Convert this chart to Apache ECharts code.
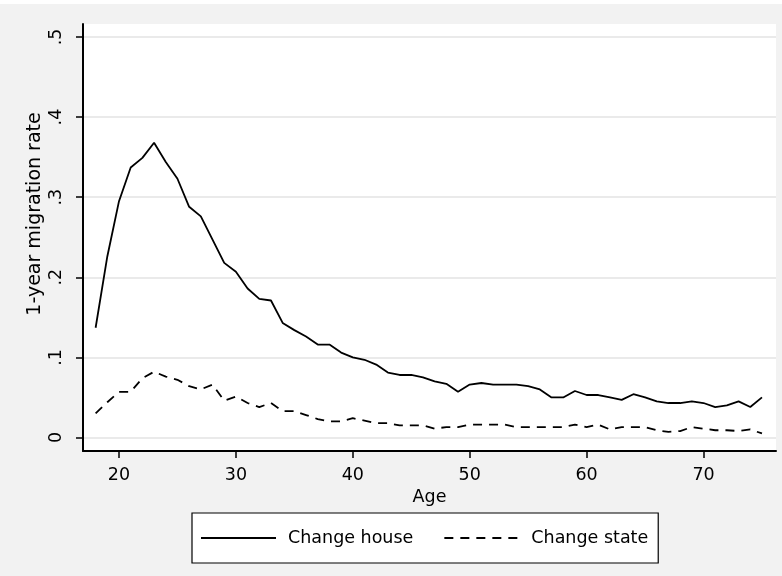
<!DOCTYPE html>
<html>
<head>
<meta charset="utf-8">
<script src="https://cdn.jsdelivr.net/npm/echarts@6/dist/echarts.min.js"></script>
<style>
html,body{margin:0;padding:0;background:#f2f2f2;}
#chart{width:782px;height:576px;}
</style>
</head>
<body>
<div id="chart"></div>
<script>
var ages = [18,19,20,21,22,23,24,25,26,27,28,29,30,31,32,33,34,35,36,37,38,39,40,41,42,43,44,45,46,47,48,49,50,51,52,53,54,55,56,57,58,59,60,61,62,63,64,65,66,67,68,69,70,71,72,73,74,75];
var changeHouse = [0.137,0.226,0.295,0.337,0.349,0.368,0.344,0.323,0.288,0.276,0.247,0.218,0.207,0.186,0.173,0.171,0.143,0.134,0.126,0.116,0.116,0.106,0.100,0.097,0.091,0.081,0.078,0.078,0.075,0.070,0.067,0.057,0.066,0.068,0.066,0.066,0.066,0.064,0.060,0.050,0.050,0.058,0.053,0.053,0.050,0.047,0.054,0.050,0.045,0.043,0.043,0.045,0.043,0.038,0.040,0.045,0.038,0.050];
var changeState = [0.030,0.044,0.057,0.057,0.074,0.082,0.076,0.072,0.064,0.060,0.066,0.046,0.051,0.043,0.038,0.043,0.033,0.033,0.028,0.023,0.020,0.020,0.024,0.021,0.018,0.018,0.015,0.015,0.015,0.011,0.013,0.013,0.016,0.016,0.016,0.016,0.013,0.013,0.013,0.013,0.013,0.016,0.013,0.016,0.010,0.013,0.013,0.013,0.009,0.007,0.008,0.013,0.011,0.009,0.009,0.008,0.010,0.005];
var xTicks = [20,30,40,50,60,70];
var yTicks = [0,0.1,0.2,0.3,0.4,0.5];
var seriesNames = ['Change house','Change state'];
var xTitle = 'Age';
var yTitle = '1-year migration rate';

var FONT = 'DejaVu Sans';
var chart = echarts.init(document.getElementById('chart'), null, {renderer:'canvas'});

function pairs(ys){ return ages.map(function(a,i){ return [a, ys[i]]; }); }

chart.setOption({
  backgroundColor:'#f2f2f2',
  animation:false,
  textStyle:{fontFamily:FONT},
  graphic:[
    {type:'rect', left:0, top:0, shape:{width:782,height:4}, style:{fill:'#ffffff'}, z:-1},
    {type:'text', x:35, y:214, rotation:Math.PI/2,
     style:{text:yTitle, font:'19px "DejaVu Sans"', fill:'#000', align:'center', verticalAlign:'middle'}}
  ],
  grid:{left:83, right:6, top:24, bottom:125, show:true, backgroundColor:'#ffffff', borderWidth:0, containLabel:false},
  xAxis:{
    type:'value', min:16.92, max:76.2,
    axisLine:{show:true, onZero:false, lineStyle:{color:'#000', width:2}},
    axisTick:{show:true, length:7, customValues:xTicks, lineStyle:{color:'#000', width:1.5}},
    axisLabel:{customValues:xTicks, color:'#000', fontSize:17.5, fontFamily:FONT, margin:15},
    splitLine:{show:false},
    name:xTitle, nameLocation:'middle', nameGap:28,
    nameTextStyle:{color:'#000', fontSize:17.5, fontFamily:FONT}
  },
  yAxis:{
    type:'value', min:-0.0169, max:0.5162,
    axisLine:{show:true, onZero:false, lineStyle:{color:'#000', width:2}},
    axisTick:{show:true, length:7, customValues:yTicks, lineStyle:{color:'#000', width:1.5}},
    axisLabel:{customValues:yTicks, rotate:90, color:'#000', fontSize:17.5, fontFamily:FONT, margin:18,
      formatter:function(v){ return v===0 ? '0' : String(+v.toFixed(1)).replace(/^0/,''); }},
    splitLine:{show:true, lineStyle:{color:'#eaeaea', width:2}}
  },
  legend:{
    left:192, top:513,
    data:seriesNames,
    orient:'horizontal',
    backgroundColor:'#ffffff', borderColor:'#000', borderWidth:1.2,
    padding:[15,10,15,8],
    itemWidth:75, itemHeight:20, itemGap:30,
    itemStyle:{opacity:0},
    textStyle:{color:'#000', fontSize:17.5, fontFamily:FONT, lineHeight:20, padding:[0,0,0,7]}
  },
  series:[
    {name:seriesNames[0], type:'line', data:pairs(changeHouse), symbol:'none', showSymbol:false,
     lineStyle:{color:'#000', width:1.8, type:'solid'}, itemStyle:{color:'#000'}},
    {name:seriesNames[1], type:'line', data:pairs(changeState), symbol:'none', showSymbol:false,
     lineStyle:{color:'#000', width:1.8, type:[9,7]}, itemStyle:{color:'#000'}}
  ]
});
</script>
</body>
</html>
